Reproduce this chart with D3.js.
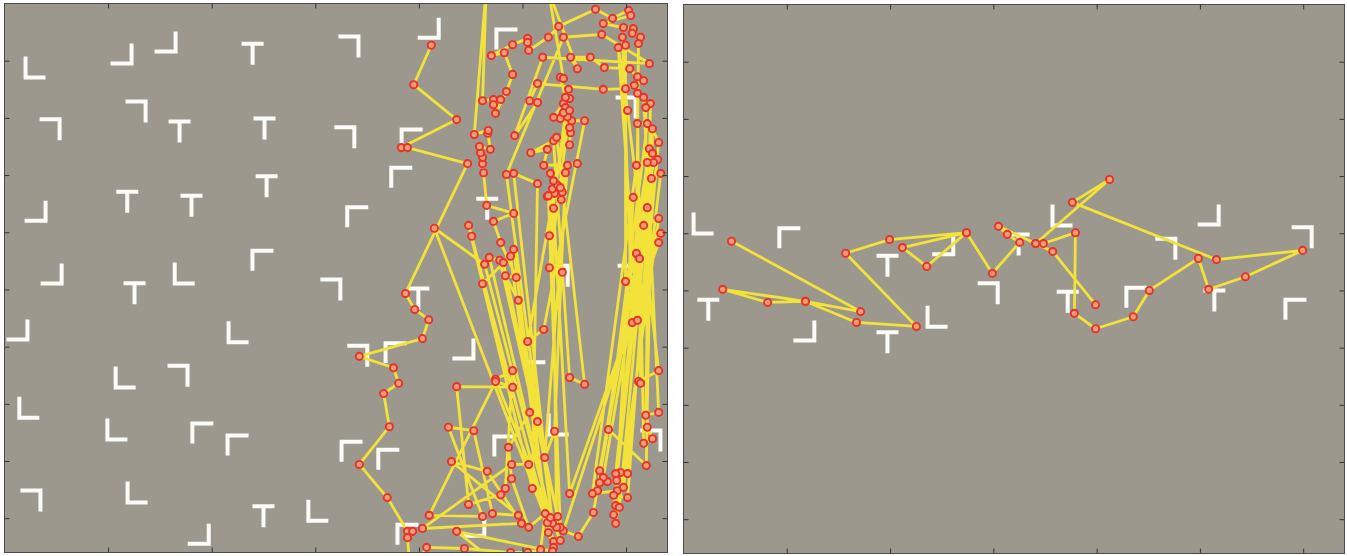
<!DOCTYPE html>
<html><head><meta charset="utf-8">
<script src="https://cdn.jsdelivr.net/npm/d3@7"></script>
<style>html,body{margin:0;padding:0;background:#fff;} svg{display:block;}</style>
</head><body>
<svg id="chart" width="1347" height="556"></svg>
<script>
// ---- axes (stimulus display in screen pixels, 1280 x 960) ----
const xDomain = [0, 1280];
const yDomain = [0, 960];
const xTicks = [200, 400, 600, 800, 1000, 1200];
const yTicks = [100, 200, 300, 400, 500, 600, 700, 800, 900];

// ---- left display: items (T = target, L0/L90/L180/L270 = rotated L distractors) ----
const leftStimX = [58,226,311,479,666,819,969,89,255,338,502,658,786,766,506,237,361,60,681,498,91,251,346,631,799,1070,25,450,232,336,46,216,382,450,670,741,52,255,500,604,375,965,1068,1249,907,683,755,886,1023,778,932,1201,1205];
const leftStimY = [112,89,68,86,75,44,61,220,189,222,217,234,236,303,318,345,352,364,372,448,474,505,472,500,514,476,572,575,654,651,707,745,750,771,782,796,869,855,895,887,929,773,736,764,915,616,610,605,610,927,357,182,476];
const leftStimKind = ["L0","L270","L270","T","L180","L270","L90","L180","L180","T","T","L180","L90","L90","T","T","T","L270","L90","L90","L270","T","L0","L180","T","L180","L270","L0","L0","L180","L0","L0","L90","L90","L90","L90","L180","L0","T","L0","L270","L90","L0","L180","L270","L180","L90","L270","L0","L90","T","L180","L180"];

// ---- right display items ----
const rightStimX = [37,205,48,234,395,503,395,490,591,649,732,935,1017,1199,744,877,1028,1185];
const rightStimY = [383,407,532,572,455,421,589,546,505,418,369,427,369,407,518,511,516,532];
const rightStimKind = ["L0","L90","T","L270","T","L270","T","L0","L180","T","L0","L180","L270","L180","T","L90","T","L90"];

// ---- left scanpath (fixations in order) ----
const leftFixX = [824,790,873,766,778,894,774,792,819,807,685,751,761,732,743,685,739,778,788,778,784,815,888,977,1010,1035,
1044,1012,979,973,1014,1029,992,967,988,958,944,983,931,925,923,923,919,917,938,933,934,907,930,923,944,958,944,948,969,981,965,940,981,1010,1010,1012,1050,1070,1141,1174,1205,1209,1156,1195,1214,1212,
1228,1224,1220,1226,1199,1199,1193,1212,1222,1185,1203,1263,1224,1228,1222,1234,1263,1238,1247,1238,1241,1251,1234,1222,1241,1166,1239,1251,1263,1203,1189,1180,1245,1251,1182,1164,1156,1261,1253,1149,1149,1145,1241,1220,1135,1183,1195,1267,1249,1203,1176,1180,1214,1241,1187,1176,1180,1263,1234,1137,1108,1079,1267,1263,
1091,1060,1048,1062,1077,1075,1050,1073,1066,1058,1068,1060,1054,1073,1083,1062,1043,1087,1106,1041,1048,1016,1060,1091,1120,1066,1091,1093,1091,1095,1120,1041,1010,1087,1073,1060,1079,1083,1079,1091,1052,1077,1052,
1089,1091,1083,1073,1079,1050,1106,1093,1131,1158,1207,1222,1234,1216,1199,1156,1029,1014,1029,985,1039,1245,1153,1079,
969,1058,983,1029,1019,896,902,1048,830,927,1054,936,956,1068,963,983,1050,977,923,1060,1073,948,981,967,958,896,873,981,948,820,923,857,906,942,992,863,932,998,807,979,1012,1060,1058,873,967];
const leftFixY = [73,142,203,252,252,280,507,535,553,586,617,637,664,682,740,806,864,923,923,934,1000,951,953,960,960,955,
892,916,831,776,715,731,519,476,479,418,381,367,353,296,280,269,261,250,255,227,222,229,-26,170,168,168,177,192,154,124,86,91,72,61,68,82,59,40,10,26,12,21,35,42,44,52,
59,70,437,446,486,73,59,558,554,77,187,642,661,664,157,164,715,720,175,182,741,761,769,210,210,745,808,219,243,822,820,822,254,262,834,836,829,273,278,817,838,852,278,283,857,852,846,297,306,864,860,878,339,357,881,894,909,376,388,890,932,922,402,418,
857,358,337,332,330,343,336,916,916,324,318,310,297,322,296,748,794,283,280,283,255,261,240,654,666,234,247,226,217,205,205,570,591,198,201,199,175,182,191,187,462,470,406,
150,166,164,129,131,-23,114,94,94,112,114,128,135,143,149,150,140,170,173,231,94,105,54,59,
299,909,297,315,848,388,407,908,393,456,899,444,449,897,453,430,925,442,490,941,939,657,642,848,859,876,670,671,661,895,897,741,747,892,895,801,818,909,918,806,806,951,958,923,991];

// ---- right scanpath ----
const rightFixX = [93,343,236,76,163,236,335,451,314,399,548,424,471,548,598,651,627,610,682,697,759,757,798,871,902,997,1017,1088,1199,1032,753,825,682,715,798];
const rightFixY = [414,537,519,498,521,519,556,563,435,411,399,425,458,399,470,416,402,388,418,418,399,540,567,546,500,444,498,476,430,446,346,306,418,432,525];

// ---------------- drawing ----------------
const svg = d3.select("#chart");
const panels = [
  {id:"L", x0:4.5, x1:667.5, y0:3.5, y1:552.5, sx:leftStimX, sy:leftStimY, sk:leftStimKind, fx:leftFixX, fy:leftFixY},
  {id:"R", x0:683.5, x1:1344.5, y0:4.5, y1:553.5, sx:rightStimX, sy:rightStimY, sk:rightStimKind, fx:rightFixX, fy:rightFixY}
];
const rot = {L0:0, L90:90, L180:180, L270:270};
const shapeL = "M-9,-11V10H11";
const shapeT = "M-11,-9H11M0,-9V12";

panels.forEach(p => {
  const x = d3.scaleLinear().domain(xDomain).range([p.x0, p.x1]);
  const y = d3.scaleLinear().domain(yDomain).range([p.y0, p.y1]);
  const g = svg.append("g");
  const defs = svg.append("defs");
  defs.append("clipPath").attr("id", "clip" + p.id)
    .append("rect").attr("x", p.x0).attr("y", p.y0)
    .attr("width", p.x1 - p.x0).attr("height", p.y1 - p.y0);

  g.append("rect").attr("x", p.x0).attr("y", p.y0)
    .attr("width", p.x1 - p.x0).attr("height", p.y1 - p.y0)
    .attr("fill", "#9c988e");

  const inner = g.append("g").attr("clip-path", "url(#clip" + p.id + ")");

  // stimuli
  const items = p.sx.map((v, i) => ({x: v, y: p.sy[i], k: p.sk[i]}));
  inner.selectAll("path.stim").data(items).enter().append("path")
    .attr("class", "stim")
    .attr("d", d => d.k === "T" ? shapeT : shapeL)
    .attr("transform", d => `translate(${x(d.x)},${y(d.y)}) rotate(${d.k === "T" ? 0 : rot[d.k]})`)
    .attr("fill", "none").attr("stroke", "#fbfbf8").attr("stroke-width", 4)
    .attr("stroke-linejoin", "miter").attr("stroke-linecap", "butt");

  // scanpath
  const fix = p.fx.map((v, i) => ({x: v, y: p.fy[i]}));
  inner.append("path").datum(fix)
    .attr("d", d3.line().x(d => x(d.x)).y(d => y(d.y)))
    .attr("fill", "none").attr("stroke", "#f2e23a").attr("stroke-width", 2.8)
    .attr("stroke-linejoin", "round");
  inner.selectAll("circle.fix").data(fix).enter().append("circle")
    .attr("class", "fix")
    .attr("cx", d => x(d.x)).attr("cy", d => y(d.y)).attr("r", 3.6)
    .attr("fill", "#f39b72").attr("stroke", "#e5322a").attr("stroke-width", 1.9);

  // inward ticks on all sides
  const tick = (axis, tr) => g.append("g").attr("transform", tr)
    .call(axis.tickFormat("").tickSizeOuter(0))
    .call(s => s.select(".domain").remove())
    .call(s => s.selectAll("line").attr("stroke", "#333").attr("stroke-width", 1));
  tick(d3.axisTop(x).tickValues(xTicks).tickSizeInner(-5), `translate(0,${p.y0})`);
  tick(d3.axisBottom(x).tickValues(xTicks).tickSizeInner(-5), `translate(0,${p.y1})`);
  tick(d3.axisLeft(y).tickValues(yTicks).tickSizeInner(-5), `translate(${p.x0},0)`);
  tick(d3.axisRight(y).tickValues(yTicks).tickSizeInner(-5), `translate(${p.x1},0)`);

  g.append("rect").attr("x", p.x0).attr("y", p.y0)
    .attr("width", p.x1 - p.x0).attr("height", p.y1 - p.y0)
    .attr("fill", "none").attr("stroke", "#4a4a4a").attr("stroke-width", 1);
});
</script>
</body></html>
